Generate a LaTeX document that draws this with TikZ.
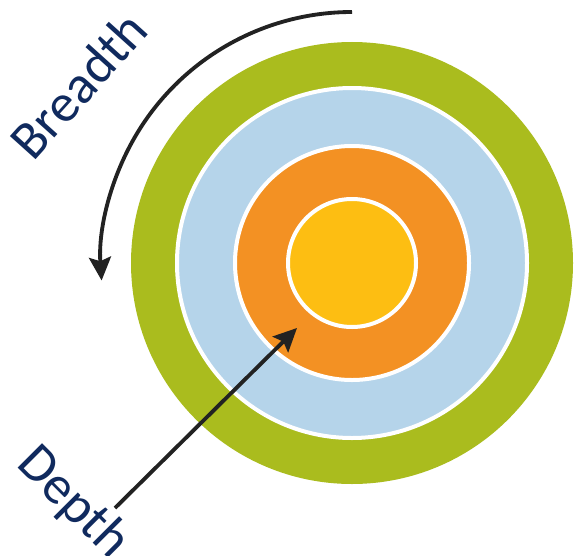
\documentclass[tikz,border=0pt]{standalone}
\usepackage{fontspec}
\setmainfont{Carlito}
\usetikzlibrary{positioning,arrows.meta}
\definecolor{ringgreen}{HTML}{AABC1E}
\definecolor{ringblue}{HTML}{B5D4EA}
\definecolor{ringorange}{HTML}{F39123}
\definecolor{ringyellow}{HTML}{FDBE12}
\definecolor{labelnavy}{HTML}{102A5E}
\definecolor{pointergray}{HTML}{222222}
\tikzset{
  ring/.style={draw=white, line width=1.2mm},
  pointer/.style={draw=pointergray, line width=1.15mm,
    -{Stealth[length=7mm, width=6.6mm, inset=1.2mm]}},
  labeltext/.style={text=labelnavy, inner sep=0pt,
    font=\fontsize{46}{50}\selectfont}
}
\begin{document}
\begin{tikzpicture}[x=0.3mm, y=0.3mm]
    \useasboundingbox (0,0) rectangle (578,555);
    \coordinate (ctr) at (352,292);

    % rings
    \fill[ringgreen] (ctr) circle (221);
    \draw[ring, fill=ringblue]   (ctr) circle (175);
    \draw[ring, fill=ringorange] (ctr) circle (117);
    \draw[ring, fill=ringyellow] (ctr) circle (64);

    % breadth
    \coordinate (b0) at (352,543);
    \draw[pointer] (b0) arc[start angle=90, end angle=184, radius=251];
    \node[labeltext, rotate=48] (breadth) at (78,470) {Breadth};

    % depth
    \coordinate (d0) at (115,47);
    \coordinate (d1) at (297,227);
    \draw[pointer] (d0) -- (d1);
    \node[labeltext, rotate=-45] (depth) at (73,52) {Depth};
\end{tikzpicture}
\end{document}
